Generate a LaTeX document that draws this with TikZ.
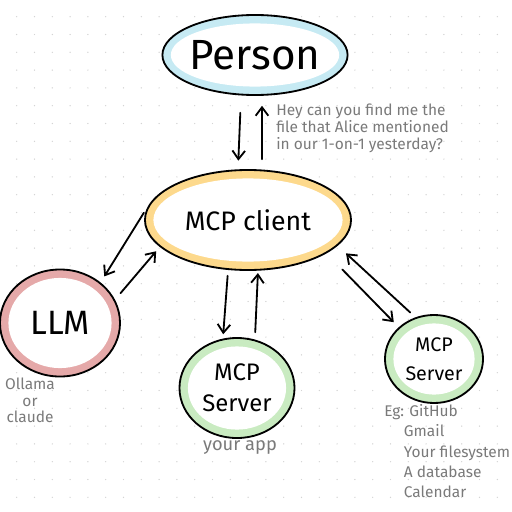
\documentclass[tikz,border=0pt]{standalone}
\usepackage{fontspec}
\setmainfont{Fira Sans}
\usetikzlibrary{shapes.geometric, arrows.meta, positioning, calc}
\definecolor{PersonBlue}{HTML}{C6EAF3}
\definecolor{ClientYellow}{HTML}{FDD98C}
\definecolor{LlmRed}{HTML}{E5A9A9}
\definecolor{ServerGreen}{HTML}{C9EBC1}
\definecolor{NoteGray}{HTML}{7A7A7A}
\definecolor{DotGray}{HTML}{D4D4D4}
\tikzset{
    bubble/.style={ellipse, draw=black, line width=1.3pt, fill=#1, inner sep=0pt, align=center,
        path picture={\fill[white] let \p1=(path picture bounding box.north east), \p2=(path picture bounding box.center) in (\p2) ellipse [x radius={\x1-\x2-6pt}, y radius={\y1-\y2-6pt}];}},
    note/.style={text=NoteGray, align=left, inner sep=0pt},
    arr/.style={-{Straight Barb[length=6pt, width=9pt]}, line width=1.3pt, line cap=round}
}

\begin{document}
\begin{tikzpicture}[x=0.025cm, y=-0.025cm]
    \useasboundingbox (0,0) rectangle (512,512);
    \clip (0,0) rectangle (512,512);
    \fill[white] (0,0) rectangle (512,512);
    % dotted paper
    \foreach \i in {0,...,28}
      \foreach \j in {0,...,28}
        \fill[DotGray] (16.7+17.8*\i, 16.7+17.8*\j) circle (0.5pt);

    \node[bubble=PersonBlue, minimum width=4.6cm, minimum height=2cm, font=\fontsize{30}{34}\selectfont] (person) at (255,55) {Person};
    \node[bubble=ClientYellow, minimum width=5.15cm, minimum height=2.5cm, font=\fontsize{19}{22}\selectfont] (client) at (248,220) {MCP client};
    \node[bubble=LlmRed, minimum width=3cm, minimum height=2.675cm, font=\fontsize{24}{28}\selectfont] (llm) at (60,323) {LLM};
    \node[bubble=ServerGreen, minimum width=2.875cm, minimum height=2.5cm, font=\fontsize{17}{22}\selectfont] (appsrv) at (237,388) {MCP\\Server};
    \node[bubble=ServerGreen, minimum width=2.45cm, minimum height=2.2cm, font=\fontsize{14}{21}\selectfont] (extsrv) at (434,359) {MCP\\Server};

    % person <-> client
    \draw[arr, shorten <=12pt, shorten >=6pt] ([xshift=-0.35cm]person.south) -- ([xshift=-0.25cm]client.north);
    \draw[arr, shorten <=7pt, shorten >=7pt] ([xshift=0.35cm]client.north) -- ([xshift=0.175cm]person.south);

    % client <-> llm
    \draw[arr, shorten <=7pt, shorten >=5pt] (client.171) -- (llm.45);
    \draw[arr, shorten <=6pt, shorten >=4pt] (llm.23) -- (client.197);

    % client <-> servers
    \draw[arr, shorten <=3.5pt, shorten >=2pt] ([xshift=-0.5cm]client.south) -- ([xshift=-0.35cm]appsrv.north);
    \draw[arr, shorten <=3.5pt, shorten >=1.5pt] ([xshift=0.45cm]appsrv.north) -- ([xshift=0.25cm]client.south);
    \draw[arr, shorten <=5pt, shorten >=8pt] (extsrv.114) -- (client.344);
    \draw[arr, shorten <=16pt, shorten >=5pt] (client.337) -- (extsrv.138);

    % notes
    \node[note, anchor=north west, font=\fontsize{11}{12}\selectfont] (ask) at (276,104) {Hey can you find me the\\file that Alice mentioned\\in our 1-on-1 yesterday?};
    \node[note, align=center, anchor=north, font=\fontsize{11}{11.5}\selectfont] (llmnote) at (30,378) {Ollama\\or\\claude};
    \node[note, anchor=north, font=\fontsize{13}{15}\selectfont] (appnote) at (240,440) {your app};
    \node[note, anchor=north west, font=\fontsize{11}{14.5}\selectfont] (extnote) at (384,404) {Eg: GitHub\\\hspace*{14pt}Gmail\\\hspace*{14pt}Your filesystem\\\hspace*{14pt}A database\\\hspace*{14pt}Calendar};
\end{tikzpicture}
\end{document}
